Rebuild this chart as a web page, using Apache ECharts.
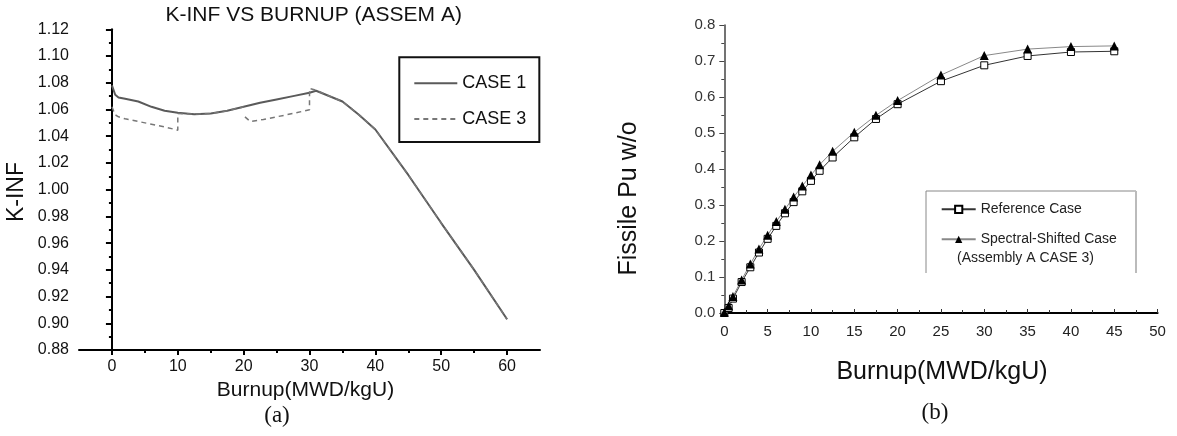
<!DOCTYPE html>
<html>
<head>
<meta charset="utf-8">
<title>K-INF and Fissile Pu vs Burnup</title>
<script src="https://cdn.jsdelivr.net/npm/echarts@6/dist/echarts.min.js"></script>
<style>
  html, body { margin: 0; padding: 0; background: #fff; }
  #main { width: 1177px; height: 436px; }
</style>
</head>
<body>
<div id="main"></div>
<script type="text/javascript">
// (a) k-inf vs burnup
var case1Burnup = [0, 0.5, 1, 2, 4, 6, 8, 10, 12.5, 15, 17.5, 20, 22.5, 25, 27.5, 30, 31, 32.5, 35, 37.5, 40, 45, 50, 55, 60];
var case1Kinf = [1.078, 1.071, 1.069, 1.068, 1.066, 1.062, 1.059, 1.0575, 1.0565, 1.057, 1.059, 1.062, 1.065, 1.0675, 1.070, 1.0725, 1.074, 1.071, 1.066, 1.056, 1.045, 1.011, 0.975, 0.940, 0.903];
var case3Burnup = [0, 0.5, 1, 2, 4, 6, 8, 10, 10, 12.5, 15, 17.5, 20, 20, 20.2, 21, 23, 25, 27.5, 30, 30, 31, 32.5, 35, 37.5, 40, 45, 50, 55, 60];
var case3Kinf = [1.062, 1.056, 1.0545, 1.053, 1.051, 1.049, 1.047, 1.0445, 1.057, 1.0565, 1.057, 1.059, 1.062, null, 1.0545, 1.051, 1.0525, 1.0545, 1.057, 1.0598, 1.0758, 1.0745, 1.071, 1.066, 1.056, 1.045, 1.011, 0.975, 0.940, 0.903];
var kinfXTicks = [0, 10, 20, 30, 40, 50, 60];
var kinfXMinor = [5, 15, 25, 35, 45, 55];

// (b) fissile Pu vs burnup
var puBurnup = [0, 0.5, 1, 2, 3, 4, 5, 6, 7, 8, 9, 10, 11, 12.5, 15, 17.5, 20, 25, 30, 35, 40, 45];
var refPu = [0.0, 0.014, 0.040, 0.086, 0.127, 0.168, 0.206, 0.242, 0.277, 0.308, 0.338, 0.367, 0.395, 0.432, 0.488, 0.539, 0.580, 0.644, 0.688, 0.714, 0.725, 0.727];
var shiftPu = [0.002, 0.020, 0.046, 0.092, 0.136, 0.178, 0.216, 0.254, 0.288, 0.322, 0.353, 0.383, 0.412, 0.449, 0.502, 0.549, 0.590, 0.661, 0.715, 0.733, 0.740, 0.742];

var FONT = 'Liberation Sans, Arial, sans-serif';
var SERIF = 'Liberation Serif, Times New Roman, serif';

function zip(xs, ys) {
  var out = [];
  for (var i = 0; i < xs.length; i++) {
    out.push([xs[i], ys[i] === null ? '-' : ys[i]]);
  }
  return out;
}

function label(text, x, y, size, opts) {
  opts = opts || {};
  return {
    type: 'text',
    x: x,
    y: y,
    rotation: opts.rotation || 0,
    style: {
      text: text,
      fontSize: size,
      fontFamily: opts.family || FONT,
      fill: opts.color || '#111',
      align: opts.align || 'center',
      verticalAlign: 'middle',
      textAlign: opts.align || 'center',
      textVerticalAlign: 'middle'
    }
  };
}

var myChart = echarts.init(document.getElementById('main'));

var option = {
  backgroundColor: '#fff',
  animation: false,
  grid: [
    { left: 79, top: 29.3, width: 461, height: 320.7 },
    { left: 724.3, top: 25, width: 433.3, height: 288 }
  ],
  legend: [
    {
      data: ['CASE 1', 'CASE 3'],
      orient: 'vertical',
      left: 399.3,
      top: 57.3,
      padding: [17, 13, 14, 14],
      itemWidth: 43,
      itemHeight: 14,
      itemGap: 17.6,
      borderColor: '#111',
      borderWidth: 2,
      backgroundColor: '#fff',
      itemStyle: { color: 'rgba(0,0,0,0)', borderWidth: 0 },
      textStyle: { fontSize: 18, fontFamily: FONT, color: '#111' }
    },
    {
      data: ['Reference Case', 'Spectral-Shifted Case'],
      orient: 'vertical',
      left: 940.7,
      top: 202.3,
      padding: 0,
      itemWidth: 34,
      itemHeight: 9,
      itemGap: 16,
      textStyle: { fontSize: 14, fontFamily: FONT, color: '#222' }
    }
  ],
  xAxis: [
    {
      gridIndex: 0,
      type: 'value',
      min: -5,
      max: 65,
      axisLine: { lineStyle: { color: '#000', width: 2 } },
      axisTick: { customValues: kinfXTicks, length: 5, lineStyle: { color: '#000', width: 2 } },
      axisLabel: { customValues: kinfXTicks, fontSize: 16, fontFamily: FONT, color: '#111', margin: 9 },
      splitLine: { show: false }
    },
    {
      gridIndex: 0,
      type: 'value',
      position: 'bottom',
      min: -5,
      max: 65,
      axisLine: { show: false },
      axisTick: { customValues: kinfXMinor, length: 3, lineStyle: { color: '#000', width: 2 } },
      axisLabel: { show: false },
      splitLine: { show: false }
    },
    {
      gridIndex: 1,
      type: 'value',
      min: 0,
      max: 50,
      interval: 5,
      axisLine: { onZero: false, lineStyle: { color: '#000', width: 2 } },
      axisTick: { inside: true, length: 4, lineStyle: { color: '#333', width: 1 } },
      minorTick: { show: true, splitNumber: 2, length: 3, lineStyle: { color: '#333' } },
      axisLabel: { fontSize: 15, fontFamily: FONT, color: '#222', margin: 11 },
      splitLine: { show: false }
    }
  ],
  yAxis: [
    {
      gridIndex: 0,
      type: 'value',
      min: 0.88,
      max: 1.12,
      interval: 0.02,
      axisLine: { show: true, lineStyle: { color: '#000', width: 2 } },
      axisTick: { show: true, length: 6, lineStyle: { color: '#000', width: 2 } },
      minorTick: { show: true, splitNumber: 2, length: 3, lineStyle: { color: '#000', width: 2 } },
      axisLabel: {
        fontSize: 16, fontFamily: FONT, color: '#111', margin: 10,
        formatter: function (v) { return v.toFixed(2); }
      },
      splitLine: { show: false }
    },
    {
      gridIndex: 1,
      type: 'value',
      min: 0,
      max: 0.8,
      interval: 0.1,
      axisLine: { show: true, lineStyle: { color: '#444', width: 1.5 } },
      axisTick: { show: true, length: 5, lineStyle: { color: '#444' } },
      minorTick: { show: true, splitNumber: 2, length: 3, lineStyle: { color: '#444' } },
      axisLabel: {
        fontSize: 15, fontFamily: FONT, color: '#333', margin: 9,
        formatter: function (v) { return v.toFixed(1); }
      },
      splitLine: { show: false }
    }
  ],
  series: [
    {
      name: 'CASE 1',
      type: 'line',
      xAxisIndex: 0,
      yAxisIndex: 0,
      symbol: 'none',
      lineStyle: { color: '#5a5a5a', width: 2 },
      itemStyle: { color: '#5a5a5a' },
      data: zip(case1Burnup, case1Kinf)
    },
    {
      name: 'CASE 3',
      type: 'line',
      xAxisIndex: 0,
      yAxisIndex: 0,
      symbol: 'none',
      connectNulls: false,
      lineStyle: { color: '#777', width: 1.5, type: [5, 4] },
      itemStyle: { color: '#777' },
      data: zip(case3Burnup, case3Kinf)
    },
    {
      name: 'Reference Case',
      type: 'line',
      xAxisIndex: 2,
      yAxisIndex: 1,
      symbol: 'rect',
      symbolSize: 7,
      lineStyle: { color: '#333', width: 1 },
      itemStyle: { color: '#fff', borderColor: '#000', borderWidth: 1 },
      data: zip(puBurnup, refPu)
    },
    {
      name: 'Spectral-Shifted Case',
      type: 'line',
      xAxisIndex: 2,
      yAxisIndex: 1,
      symbol: 'triangle',
      symbolSize: 9,
      lineStyle: { color: '#888', width: 1 },
      itemStyle: { color: '#000' },
      data: zip(puBurnup, shiftPu)
    }
  ],
  graphic: [
    label('K-INF VS BURNUP (ASSEM A)', 313.7, 15.5, 21),
    label('K-INF', 16.5, 192, 23, { rotation: Math.PI / 2 }),
    label('Burnup(MWD/kgU)', 305.5, 390, 21),
    label('(a)', 277, 416, 23, { family: SERIF }),
    label('Fissile Pu w/o', 629.6, 198.5, 25, { rotation: Math.PI / 2 }),
    label('Burnup(MWD/kgU)', 942, 371.7, 25),
    label('(b)', 935, 413, 23, { family: SERIF }),
    {
      type: 'polyline',
      shape: { points: [[926, 273], [926, 191], [1136, 191]] },
      style: { stroke: '#888', lineWidth: 1, fill: null }
    },
    {
      type: 'line',
      shape: { x1: 1136, y1: 191, x2: 1136, y2: 273 },
      style: { stroke: '#bbb', lineWidth: 2 }
    },
    label('(Assembly A CASE 3)', 957, 258.3, 14, { align: 'left', color: '#222' })
  ]
};

myChart.setOption(option);
</script>
</body>
</html>
